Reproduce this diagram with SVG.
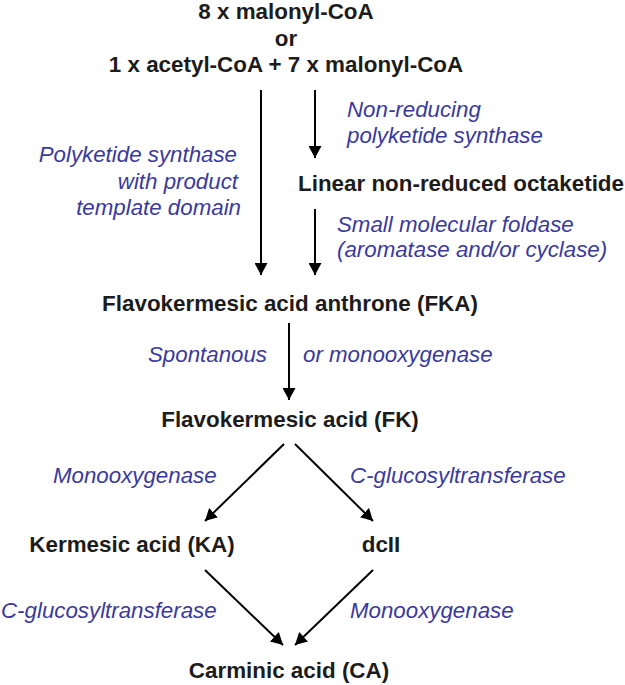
<svg xmlns="http://www.w3.org/2000/svg" width="625" height="685" viewBox="0 0 625 685">
<defs>
<style>
.n{font-family:"Liberation Sans",Arial,sans-serif;font-size:22.4px;font-weight:bold;fill:#1c1c1c}
.l{font-family:"Liberation Sans",Arial,sans-serif;font-size:22.3px;font-style:italic;fill:#3a3a9c}
.c line{stroke:#000;stroke-width:2;marker-end:url(#ah)}
</style>
<marker id="ah" viewBox="0 0 12 13" refX="12" refY="6.5" markerWidth="12" markerHeight="13" markerUnits="userSpaceOnUse" orient="auto">
<path d="M0,0 L12,6.5 L0,13 z" fill="#000"/>
</marker>
</defs>
<rect width="625" height="685" fill="#fff"/>
<g id="start">
<text class="n" x="286" y="19" text-anchor="middle">8 x malonyl-CoA</text>
<text class="n" x="286" y="45.5" text-anchor="middle">or</text>
<text class="n" x="286" y="72" text-anchor="middle">1 x acetyl-CoA + 7 x malonyl-CoA</text>
</g>
<g id="octaketide"><text class="n" x="298" y="190.5">Linear non-reduced octaketide</text></g>
<g id="fka"><text class="n" x="290" y="311" text-anchor="middle">Flavokermesic acid anthrone (FKA)</text></g>
<g id="fk"><text class="n" x="290" y="427" text-anchor="middle">Flavokermesic acid (FK)</text></g>
<g id="ka"><text class="n" x="132" y="552" text-anchor="middle">Kermesic acid (KA)</text></g>
<g id="dcii"><text class="n" x="381" y="552" text-anchor="middle">dcII</text></g>
<g id="ca"><text class="n" x="289" y="678" text-anchor="middle">Carminic acid (CA)</text></g>
<g class="c" id="connectors">
<line x1="261" y1="90" x2="261" y2="275"/>
<line x1="315" y1="90" x2="315" y2="158"/>
<line x1="315" y1="209" x2="315" y2="275"/>
<line x1="289" y1="323" x2="289" y2="400"/>
<line x1="284" y1="444" x2="205" y2="521"/>
<line x1="295" y1="444" x2="373" y2="521"/>
<line x1="205" y1="570" x2="283" y2="645"/>
<line x1="373" y1="570" x2="295" y2="645"/>
</g>
<g id="labels">
<text class="l" x="237" y="162" text-anchor="end">Polyketide synthase</text>
<text class="l" x="238" y="189" text-anchor="end">with product</text>
<text class="l" x="241" y="215" text-anchor="end">template domain</text>
<text class="l" x="347" y="117">Non-reducing</text>
<text class="l" x="347" y="143">polyketide synthase</text>
<text class="l" x="337" y="232">Small molecular foldase</text>
<text class="l" x="337" y="257">(aromatase and/or cyclase)</text>
<text class="l" x="148" y="362">Spontanous</text>
<text class="l" x="303" y="362">or monooxygenase</text>
<text class="l" x="53" y="483">Monooxygenase</text>
<text class="l" x="350" y="483">C-glucosyltransferase</text>
<text class="l" x="1" y="618">C-glucosyltransferase</text>
<text class="l" x="350" y="618">Monooxygenase</text>
</g>
</svg>
